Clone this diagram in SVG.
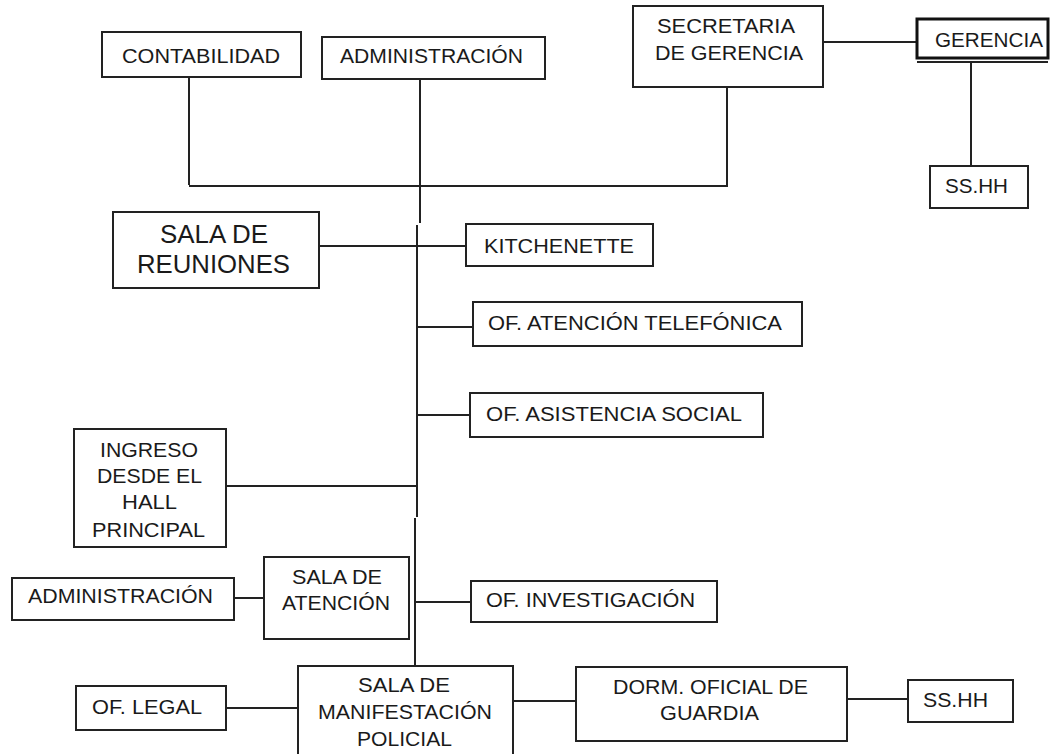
<svg xmlns="http://www.w3.org/2000/svg" width="1050" height="754" viewBox="0 0 1050 754">
<style>
rect.box{fill:#fff;stroke:#222;stroke-width:2}
line,path.c{stroke:#222;stroke-width:2;fill:none}
text{font-family:"Liberation Sans",Arial,sans-serif;font-size:20px;fill:#1a1a1a}
text.big{font-size:25px}
</style>
<rect width="1050" height="754" fill="#fff"/>
<g id="connectors">
<line x1="189" y1="77" x2="189" y2="185"/>
<line x1="189" y1="186" x2="728" y2="186"/>
<line x1="727" y1="87" x2="727" y2="186"/>
<line x1="420" y1="79" x2="420" y2="223"/>
<line x1="823" y1="42" x2="917" y2="42"/>
<line x1="971" y1="62" x2="971" y2="166"/>
<line x1="417" y1="225" x2="417" y2="517"/>
<line x1="319" y1="246" x2="466" y2="246"/>
<line x1="417" y1="327" x2="473" y2="327"/>
<line x1="417" y1="415" x2="470" y2="415"/>
<line x1="226" y1="486" x2="417" y2="486"/>
<line x1="415" y1="518" x2="415" y2="666"/>
<line x1="234" y1="598" x2="264" y2="598"/>
<line x1="415" y1="602" x2="471" y2="602"/>
<line x1="226" y1="708" x2="298" y2="708"/>
<line x1="513" y1="701" x2="576" y2="701"/>
<line x1="847" y1="699" x2="908" y2="699"/>
</g>
<g id="contabilidad"><rect class="box" x="102" y="32" width="199" height="45"/><text x="122" y="63" textLength="158" lengthAdjust="spacingAndGlyphs">CONTABILIDAD</text></g>
<g id="administracion-top"><rect class="box" x="322" y="37" width="223" height="42"/><text x="340" y="63" textLength="183" lengthAdjust="spacingAndGlyphs">ADMINISTRACIÓN</text></g>
<g id="secretaria"><rect class="box" x="633" y="6" width="190" height="81"/><text x="657" y="33" textLength="138" lengthAdjust="spacingAndGlyphs">SECRETARIA</text><text x="655" y="60" textLength="148" lengthAdjust="spacingAndGlyphs">DE GERENCIA</text></g>
<g id="gerencia"><rect x="917" y="19" width="131" height="39" fill="#fff" stroke="#111" stroke-width="3"/><line x1="917" y1="62" x2="1048" y2="62" stroke="#555" stroke-width="1.5"/><text x="935" y="47" textLength="108" lengthAdjust="spacingAndGlyphs">GERENCIA</text></g>
<g id="sshh-top"><rect class="box" x="930" y="166" width="98" height="42"/><text x="945" y="193" textLength="63" lengthAdjust="spacingAndGlyphs">SS.HH</text></g>
<g id="sala-reuniones"><rect class="box" x="113" y="212" width="206" height="76"/><text class="big" x="160" y="243" textLength="108" lengthAdjust="spacingAndGlyphs">SALA DE</text><text class="big" x="137" y="273" textLength="153" lengthAdjust="spacingAndGlyphs">REUNIONES</text></g>
<g id="kitchenette"><rect class="box" x="466" y="224" width="187" height="42"/><text x="484" y="253" textLength="150" lengthAdjust="spacingAndGlyphs">KITCHENETTE</text></g>
<g id="of-telefonica"><rect class="box" x="473" y="302" width="329" height="44"/><text x="488" y="330" textLength="294" lengthAdjust="spacingAndGlyphs">OF. ATENCIÓN TELEFÓNICA</text></g>
<g id="of-asistencia"><rect class="box" x="470" y="393" width="293" height="44"/><text x="486" y="421" textLength="256" lengthAdjust="spacingAndGlyphs">OF. ASISTENCIA SOCIAL</text></g>
<g id="ingreso"><rect class="box" x="74" y="429" width="152" height="118"/><text x="100" y="457" textLength="98" lengthAdjust="spacingAndGlyphs">INGRESO</text><text x="97" y="483" textLength="105" lengthAdjust="spacingAndGlyphs">DESDE EL</text><text x="122" y="509" textLength="55" lengthAdjust="spacingAndGlyphs">HALL</text><text x="92" y="537" textLength="113" lengthAdjust="spacingAndGlyphs">PRINCIPAL</text></g>
<g id="administracion-left"><rect class="box" x="12" y="578" width="222" height="42"/><text x="28" y="603" textLength="185" lengthAdjust="spacingAndGlyphs">ADMINISTRACIÓN</text></g>
<g id="sala-atencion"><rect class="box" x="264" y="557" width="145" height="82"/><text x="292" y="584" textLength="90" lengthAdjust="spacingAndGlyphs">SALA DE</text><text x="282" y="610" textLength="108" lengthAdjust="spacingAndGlyphs">ATENCIÓN</text></g>
<g id="of-investigacion"><rect class="box" x="471" y="581" width="246" height="41"/><text x="486" y="607" textLength="209" lengthAdjust="spacingAndGlyphs">OF. INVESTIGACIÓN</text></g>
<g id="of-legal"><rect class="box" x="76" y="686" width="150" height="44"/><text x="92" y="714" textLength="110" lengthAdjust="spacingAndGlyphs">OF. LEGAL</text></g>
<g id="sala-manifestacion"><rect class="box" x="298" y="666" width="215" height="100"/><text x="358" y="692" textLength="92" lengthAdjust="spacingAndGlyphs">SALA DE</text><text x="318" y="719" textLength="174" lengthAdjust="spacingAndGlyphs">MANIFESTACIÓN</text><text x="357" y="746" textLength="95" lengthAdjust="spacingAndGlyphs">POLICIAL</text></g>
<g id="dorm-oficial"><rect class="box" x="576" y="667" width="271" height="74"/><text x="613" y="694" textLength="195" lengthAdjust="spacingAndGlyphs">DORM. OFICIAL DE</text><text x="660" y="720" textLength="99" lengthAdjust="spacingAndGlyphs">GUARDIA</text></g>
<g id="sshh-bottom"><rect class="box" x="908" y="680" width="105" height="42"/><text x="923" y="707" textLength="65" lengthAdjust="spacingAndGlyphs">SS.HH</text></g>
</svg>
